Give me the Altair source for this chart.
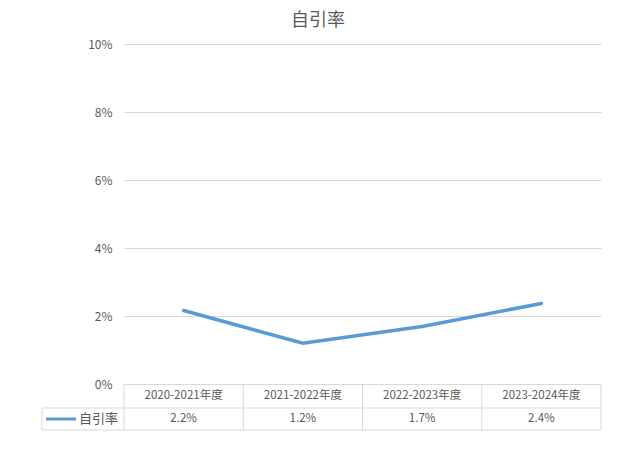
import altair as alt
import pandas as pd

categories = ["2020-2021年度", "2021-2022年度", "2022-2023年度", "2023-2024年度"]
values = [0.0216, 0.012, 0.0169, 0.0237]
series_name = "自引率"
chart_title = "自引率"
y_ticks = [0, 0.02, 0.04, 0.06, 0.08, 0.10]

df = pd.DataFrame({"cat": categories, "val": values})
one = alt.Data(values=[{}])

W, H = 477, 340
FONT = "Noto Sans CJK SC"
TXT = "#595959"
GRID = "#d9d9d9"
BLUE = "#5b9bd5"

xscale = alt.Scale(domain=categories, paddingInner=0, paddingOuter=0)
xenc = alt.X("cat:N", scale=xscale, axis=None, bandPosition=0.5)

base = alt.Chart(df)

line = base.mark_line(color=BLUE, strokeWidth=3.5, strokeCap="round").encode(
    x=xenc,
    y=alt.Y("val:Q", scale=alt.Scale(domain=[0, 0.1]),
            axis=alt.Axis(values=y_ticks, format=".0%", title=None, grid=True,
                          gridColor=GRID, domain=False, ticks=False,
                          labelColor=TXT, labelFontSize=12, labelPadding=12,
                          labelFont=FONT)),
)

header = base.mark_text(fontSize=11.5, color=TXT, font=FONT).encode(
    x=xenc, y=alt.value(352), text="cat:N")
vals = base.mark_text(fontSize=11.5, color=TXT, font=FONT).encode(
    x=xenc, y=alt.value(375), text=alt.Text("val:Q", format=".1%"))

vrules = base.mark_rule(color=GRID, strokeWidth=1).encode(
    x=alt.X("cat:N", scale=xscale, axis=None, bandPosition=0),
    y=alt.value(H), y2=alt.value(386))

c1 = alt.Chart(one)
vlast = c1.mark_rule(color=GRID).encode(x=alt.value(W), y=alt.value(H), y2=alt.value(386))
vleft = c1.mark_rule(color=GRID).encode(x=alt.value(-82), y=alt.value(364), y2=alt.value(386))
h1 = c1.mark_rule(color=GRID).encode(x=alt.value(-82), x2=alt.value(W), y=alt.value(364))
h2 = c1.mark_rule(color=GRID).encode(x=alt.value(-82), x2=alt.value(W), y=alt.value(386))
key = c1.mark_rule(color=BLUE, strokeWidth=3).encode(x=alt.value(-78), x2=alt.value(-48), y=alt.value(375))
keytxt = c1.mark_text(fontSize=13, color=TXT, font=FONT, align="left").encode(
    x=alt.value(-45), y=alt.value(375), text=alt.value(series_name))
title = c1.mark_text(fontSize=18, color=TXT, font=FONT, align="center", baseline="middle").encode(
    x=alt.value(194), y=alt.value(-23), text=alt.value(chart_title))

chart = alt.layer(line, vrules, vlast, vleft, h1, h2, header, vals, key, keytxt, title).properties(
    width=W, height=H,
    autosize=alt.AutoSizeParams(type="none"),
    padding={"left": 116, "top": 36, "right": 29, "bottom": 77},
).configure_view(stroke=None)

chart.save("out.html", embed_options={"renderer": "svg", "actions": False})
